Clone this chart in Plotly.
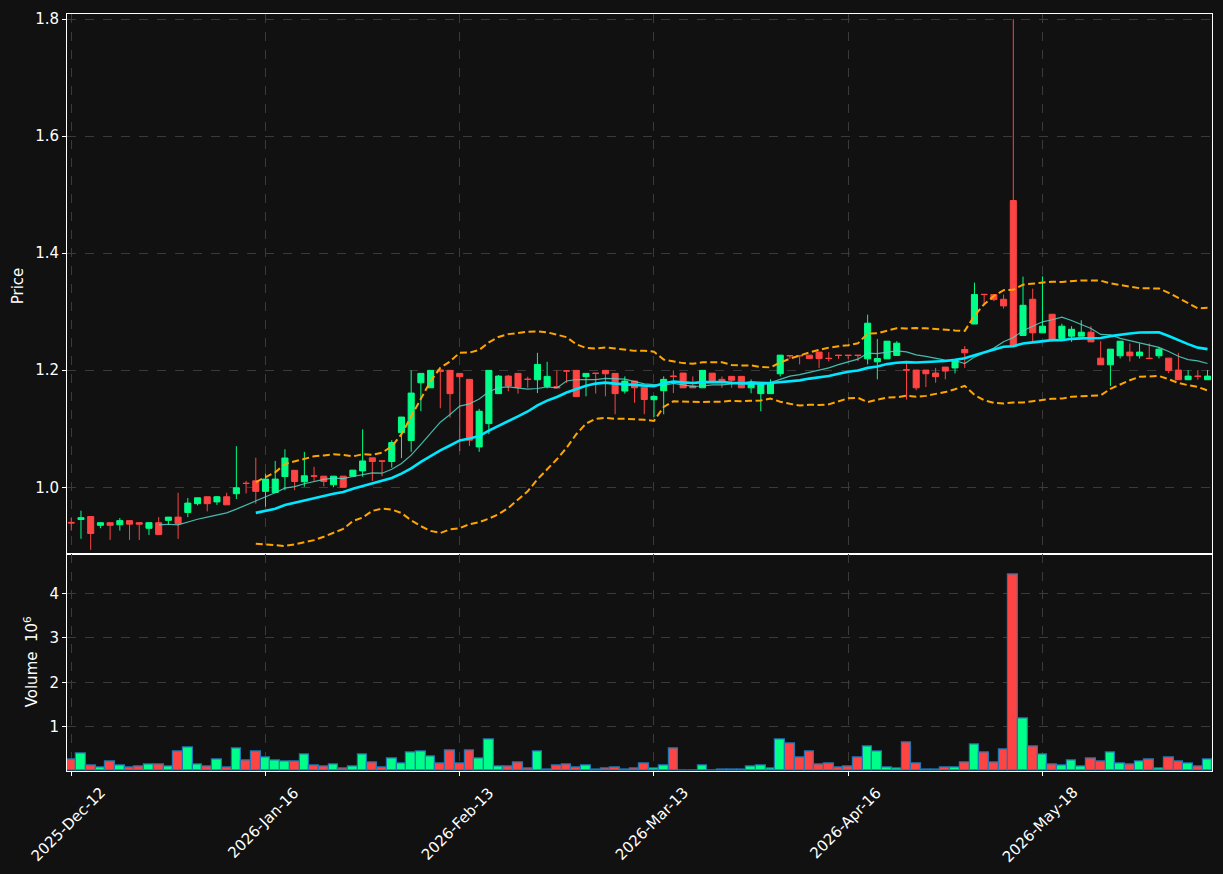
import plotly.graph_objects as go
import pandas as pd

# ---------------- data ----------------
tick_idx = [0, 20, 40, 60, 80, 100]
tick_labels = ["2025-Dec-12", "2026-Jan-16", "2026-Feb-13", "2026-Mar-13", "2026-Apr-16", "2026-May-18"]

opens = [0.940, 0.945, 0.950, 0.935, 0.9395, 0.936, 0.943, 0.9395, 0.930, 0.9395,
         0.9435, 0.949, 0.957, 0.972, 0.9838, 0.975, 0.9838, 0.989, 1.0070, 1.011,
         0.993, 0.991, 1.0184, 1.029, 1.0094, 1.0195, 1.019, 1.0043, 1.019, 1.019,
         1.028, 1.0503, 1.0450, 1.044, 1.0934, 1.080, 1.1786, 1.170, 1.2005, 1.1998,
         1.1946, 1.1844, 1.069, 1.1088, 1.160, 1.190, 1.1946, 1.1848, 1.1838, 1.1725,
         1.172, 1.199, 1.1998, 1.189, 1.195, 1.1998, 1.1946, 1.1645, 1.1815, 1.171,
         1.1497, 1.165, 1.190, 1.1952, 1.173, 1.170, 1.195, 1.1844, 1.1895, 1.1895,
         1.170, 1.160, 1.160, 1.194, 1.2250, 1.2250, 1.2258, 1.231, 1.2205, 1.2258,
         1.2258, 1.2258, 1.2195, 1.2144, 1.2195, 1.2253, 1.2008, 1.2003, 1.2003, 1.1952,
         1.2054, 1.204, 1.2355, 1.279, 1.3298, 1.3293, 1.3213, 1.490, 1.2594, 1.3213,
         1.2639, 1.2957, 1.2543, 1.2582, 1.2582, 1.265, 1.2207, 1.2093, 1.2247, 1.231,
         1.2247, 1.2205, 1.2247, 1.2207, 1.2003, 1.1838, 1.1900, 1.1838]
highs = [0.9485, 0.960, 0.950, 0.940, 0.9395, 0.9475, 0.943, 0.9405, 0.9395, 0.949,
         0.949, 0.9906, 0.9816, 0.982, 0.9838, 0.985, 0.9906, 1.0702, 1.011, 1.0505,
         1.0235, 1.045, 1.065, 1.029, 1.0605, 1.035, 1.019, 1.019, 1.019, 1.0293,
         1.099, 1.0503, 1.0450, 1.0805, 1.120, 1.1998, 1.1946, 1.1998, 1.2015, 1.1998,
         1.1946, 1.1844, 1.134, 1.1998, 1.192, 1.192, 1.1946, 1.189, 1.2298, 1.2144,
         1.1998, 1.200, 1.1998, 1.1946, 1.195, 1.1998, 1.1946, 1.1895, 1.1815, 1.171,
         1.157, 1.1895, 1.1998, 1.1952, 1.1895, 1.1998, 1.195, 1.1895, 1.1895, 1.1895,
         1.1844, 1.1787, 1.1844, 1.2258, 1.2258, 1.2250, 1.2258, 1.231, 1.231, 1.2258,
         1.2258, 1.2258, 1.295, 1.2536, 1.2497, 1.2497, 1.2127, 1.2003, 1.2003, 1.204,
         1.2054, 1.2173, 1.2412, 1.3497, 1.3298, 1.3293, 1.3293, 1.800, 1.360, 1.3395,
         1.3605, 1.2957, 1.2795, 1.2753, 1.2855, 1.2753, 1.2497, 1.236, 1.2497, 1.2458,
         1.2458, 1.2458, 1.2395, 1.2207, 1.2298, 1.2003, 1.2003, 1.2003]
lows = [0.926, 0.912, 0.893, 0.930, 0.910, 0.926, 0.910, 0.910, 0.9185, 0.9195,
        0.9356, 0.9117, 0.949, 0.969, 0.9588, 0.970, 0.970, 0.980, 0.9894, 0.972,
        0.9668, 0.990, 0.995, 0.995, 1.001, 1.011, 1.0015, 1.000, 1.000, 1.019,
        1.018, 1.011, 1.019, 1.0337, 1.0498, 1.0605, 1.130, 1.170, 1.135, 1.119,
        1.062, 1.0707, 1.0605, 1.0907, 1.160, 1.164, 1.160, 1.170, 1.161, 1.169,
        1.170, 1.1787, 1.155, 1.1554, 1.160, 1.1554, 1.1248, 1.160, 1.1445, 1.1248,
        1.120, 1.1248, 1.161, 1.170, 1.170, 1.170, 1.1787, 1.170, 1.170, 1.170,
        1.1606, 1.130, 1.160, 1.1895, 1.2195, 1.210, 1.220, 1.204, 1.215, 1.2195,
        1.2195, 1.2156, 1.210, 1.1844, 1.2195, 1.2253, 1.150, 1.1657, 1.1713, 1.1786,
        1.1844, 1.1946, 1.204, 1.279, 1.3123, 1.318, 1.3054, 1.2412, 1.2594, 1.2497,
        1.2639, 1.2485, 1.251, 1.2485, 1.2582, 1.2485, 1.2093, 1.173, 1.220, 1.215,
        1.220, 1.220, 1.220, 1.195, 1.1838, 1.1838, 1.1838, 1.1838]
closes = [0.939, 0.948, 0.921, 0.9395, 0.935, 0.943, 0.937, 0.937, 0.9395, 0.9195,
          0.949, 0.938, 0.973, 0.982, 0.972, 0.9838, 0.970, 0.9991, 1.0065, 0.993,
          1.014, 1.014, 1.050, 1.0099, 1.0196, 1.019, 1.0099, 1.019, 1.000, 1.0293,
          1.045, 1.044, 1.0447, 1.0764, 1.120, 1.161, 1.1946, 1.1998, 1.198, 1.160,
          1.189, 1.0805, 1.130, 1.1998, 1.190, 1.173, 1.171, 1.1844, 1.210, 1.1895,
          1.170, 1.1986, 1.155, 1.1946, 1.1946, 1.194, 1.160, 1.1815, 1.170, 1.150,
          1.1554, 1.1844, 1.1895, 1.170, 1.170, 1.1998, 1.180, 1.180, 1.183, 1.170,
          1.1787, 1.1787, 1.1787, 1.2258, 1.2247, 1.2247, 1.220, 1.220, 1.220, 1.2253,
          1.2253, 1.2253, 1.2804, 1.220, 1.2497, 1.2463, 1.2003, 1.170, 1.194, 1.189,
          1.1986, 1.2173, 1.2298, 1.3293, 1.3293, 1.3208, 1.310, 1.2412, 1.311, 1.2639,
          1.2753, 1.2526, 1.2753, 1.270, 1.265, 1.2485, 1.2093, 1.236, 1.2497, 1.2247,
          1.231, 1.220, 1.236, 1.1998, 1.1838, 1.190, 1.1895, 1.190]
volumes_m = [0.26, 0.40, 0.13, 0.075, 0.22, 0.13, 0.075, 0.105, 0.15, 0.15,
             0.105, 0.44, 0.53, 0.15, 0.105, 0.26, 0.075, 0.51, 0.24, 0.44,
             0.31, 0.24, 0.22, 0.22, 0.37, 0.13, 0.105, 0.15, 0.06, 0.105,
             0.37, 0.19, 0.075, 0.28, 0.17, 0.42, 0.44, 0.33, 0.17, 0.46,
             0.17, 0.46, 0.28, 0.71, 0.105, 0.105, 0.19, 0.045, 0.44, 0.03,
             0.13, 0.15, 0.08, 0.13, 0.03, 0.055, 0.08, 0.03, 0.055, 0.17,
             0.055, 0.13, 0.51, 0.02, 0.02, 0.13, 0.02, 0.04, 0.04, 0.04,
             0.10, 0.13, 0.055, 0.71, 0.62, 0.31, 0.44, 0.15, 0.17, 0.08,
             0.105, 0.31, 0.55, 0.44, 0.08, 0.055, 0.64, 0.17, 0.04, 0.04,
             0.07, 0.07, 0.19, 0.60, 0.42, 0.19, 0.49, 4.43, 1.18, 0.55,
             0.37, 0.15, 0.13, 0.24, 0.105, 0.28, 0.22, 0.42, 0.17, 0.15,
             0.22, 0.26, 0.045, 0.31, 0.22, 0.17, 0.105, 0.26]

# ---------------- derived indicators ----------------
idx = list(range(len(closes)))
s = pd.Series(closes)
ma10 = s.rolling(10).mean()
ma20 = s.rolling(20).mean()
sd20 = s.rolling(20).std()
upper = ma20 + 2 * sd20
lower = ma20 - 2 * sd20

UP = "#00ff88"
DOWN = "#ff4444"
BG = "#111111"
GRID = "#3a3a3a"
FONT = "DejaVu Sans"
FS = 15

vol_colors = [UP if c >= o else DOWN for o, c in zip(opens, closes)]

fig = go.Figure()

fig.add_trace(go.Candlestick(
    x=idx, open=opens, high=highs, low=lows, close=closes,
    increasing=dict(line=dict(color=UP, width=1), fillcolor=UP),
    decreasing=dict(line=dict(color=DOWN, width=1), fillcolor=DOWN),
    whiskerwidth=0, xaxis="x", yaxis="y", showlegend=False, name="OHLC"))

fig.add_trace(go.Scatter(x=idx, y=ma10, mode="lines",
                         line=dict(color="rgba(80,215,200,0.85)", width=1.2),
                         xaxis="x", yaxis="y", showlegend=False))
fig.add_trace(go.Scatter(x=idx, y=ma20, mode="lines",
                         line=dict(color="#00e8ff", width=2.6),
                         xaxis="x", yaxis="y", showlegend=False))
fig.add_trace(go.Scatter(x=idx, y=upper, mode="lines",
                         line=dict(color="#ffa500", width=2, dash="7px,3.5px"),
                         xaxis="x", yaxis="y", showlegend=False))
fig.add_trace(go.Scatter(x=idx, y=lower, mode="lines",
                         line=dict(color="#ffa500", width=2, dash="7px,3.5px"),
                         xaxis="x", yaxis="y", showlegend=False))

fig.add_trace(go.Bar(x=idx, y=volumes_m, width=1.0,
                     marker=dict(color=vol_colors, line=dict(color="#1f77b4", width=1.2)),
                     xaxis="x2", yaxis="y2", showlegend=False))

split = 218 / 759
xr = [-0.44, 117.46]
common_x = dict(range=xr, tickvals=tick_idx, showgrid=True, gridcolor=GRID, griddash="dash",
                gridwidth=1, showline=True, mirror=True, linecolor="white", linewidth=1,
                zeroline=False)
common_y = dict(showgrid=True, gridcolor=GRID, griddash="dash", gridwidth=1,
                showline=True, mirror=True, linecolor="white", linewidth=1, zeroline=False,
                ticks="outside", ticklen=4, tickcolor="white",
                tickfont=dict(family=FONT, size=FS, color="white"))

fig.update_layout(
    width=1223, height=874,
    margin=dict(l=67, r=10, t=12, b=103),
    paper_bgcolor=BG, plot_bgcolor=BG,
    font=dict(family=FONT, size=FS, color="white"),
    boxgap=0.2, boxgroupgap=0.22,
    bargap=0,
    xaxis=dict(domain=[0, 1], anchor="y", showticklabels=False, ticks="",
               rangeslider=dict(visible=False), **common_x),
    yaxis=dict(domain=[split, 1], anchor="x", range=[0.8867, 1.8088],
               tickvals=[1.0, 1.2, 1.4, 1.6, 1.8], ticktext=["1.0", "1.2", "1.4", "1.6", "1.8"],
               **common_y),
    xaxis2=dict(domain=[0, 1], anchor="y2", matches="x", showticklabels=False,
                ticks="outside", ticklen=4, tickcolor="white", **common_x),
    yaxis2=dict(domain=[0, split], anchor="x2", range=[0, 4.9],
                tickvals=[1, 2, 3, 4], ticktext=["1", "2", "3", "4"], **common_y),
)

annotations = []
for ti, tl in zip(tick_idx, tick_labels):
    annotations.append(dict(x=ti - 0.25, y=-0.013, xref="x2", yref="paper", text=tl,
                            showarrow=False, textangle=-45, xanchor="center", yanchor="top",
                            font=dict(family=FONT, size=FS, color="white")))
annotations.append(dict(x=(18 - 67) / 1146, y=1 - (285 - 12) / 759, xref="paper", yref="paper",
                        text="Price", showarrow=False, textangle=-90,
                        xanchor="center", yanchor="middle",
                        font=dict(family=FONT, size=FS, color="white")))
annotations.append(dict(x=(31 - 67) / 1146, y=1 - (662 - 12) / 759, xref="paper", yref="paper",
                        text="Volume  10<sup>6</sup>", showarrow=False, textangle=-90,
                        xanchor="center", yanchor="middle",
                        font=dict(family=FONT, size=FS, color="white")))
fig.update_layout(annotations=annotations)

fig.write_html("out.html")
